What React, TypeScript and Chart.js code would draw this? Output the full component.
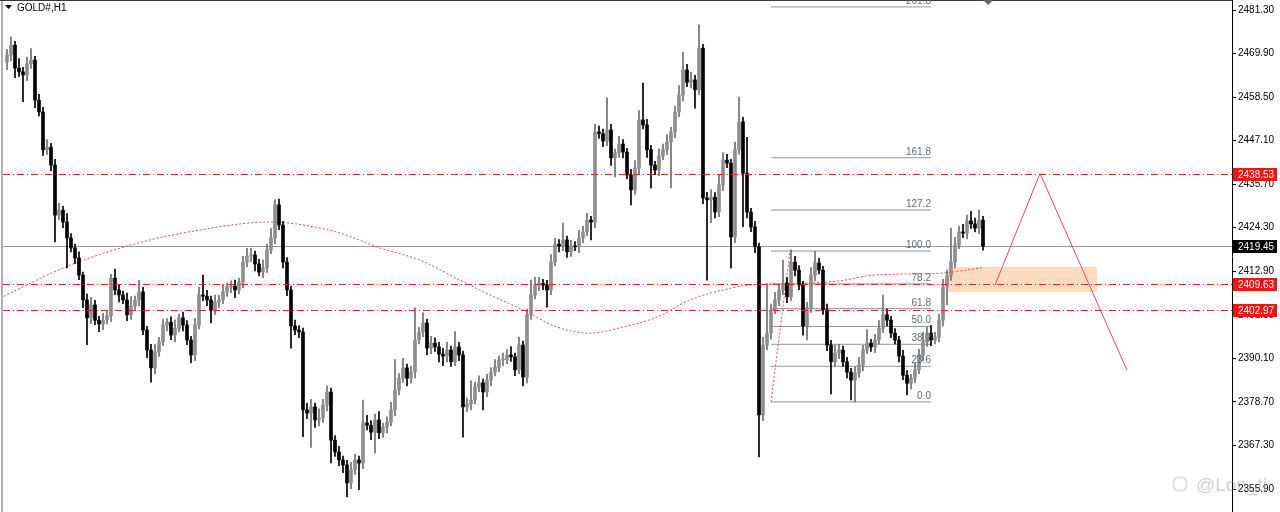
import React, { useEffect, useRef } from 'react';
import { Chart, registerables } from 'chart.js';

Chart.register(...registerables);

// ---------- DATA ----------
const symbolTitle = 'GOLD#,H1';
const firstOpen = 2467.7;
const closes = [
  2469.5, 2472.1, 2466.1, 2465.1, 2464.3, 2467.2, 2468.2, 2457.7, 2454.6, 2444.7,
  2445.4, 2440.7, 2427.6, 2428.9, 2425.8, 2421.6, 2419.0, 2416.4, 2411.9, 2405.4,
  2400.7, 2404.1, 2400.1, 2399.1, 2400.1, 2401.2, 2411.1, 2408.0, 2406.7, 2405.4,
  2401.5, 2403.8, 2405.4, 2407.5, 2397.5, 2392.3, 2387.6, 2391.8, 2394.4, 2398.8,
  2399.6, 2396.2, 2398.0, 2400.7, 2398.8, 2394.9, 2391.0, 2398.8, 2406.7, 2406.4,
  2405.4, 2402.8, 2404.9, 2405.4, 2407.5, 2408.8, 2409.0, 2408.0, 2410.1, 2415.3,
  2416.9, 2417.2, 2414.8, 2412.7, 2413.8, 2418.5, 2421.6, 2430.3, 2425.0, 2415.3,
  2408.0, 2398.6, 2397.5, 2397.0, 2376.6, 2375.8, 2377.4, 2374.0, 2374.5, 2377.9,
  2381.3, 2368.7, 2365.6, 2363.5, 2362.2, 2357.5, 2360.9, 2363.5, 2362.7, 2373.2,
  2372.6, 2370.8, 2374.0, 2370.6, 2372.1, 2373.4, 2376.6, 2381.8, 2384.9, 2387.6,
  2384.9, 2386.5, 2394.9, 2397.0, 2399.4, 2392.8, 2394.1, 2393.1, 2391.2, 2390.7,
  2392.3, 2389.2, 2393.1, 2391.0, 2377.4, 2378.2, 2379.2, 2382.6, 2383.7, 2381.3,
  2384.4, 2386.5, 2387.8, 2389.7, 2389.7, 2391.0, 2390.5, 2387.1, 2393.6, 2385.2,
  2401.5, 2406.7, 2409.3, 2409.8, 2409.3, 2408.0, 2415.3, 2420.0, 2419.5, 2421.1,
  2418.0, 2419.5, 2419.3, 2421.6, 2423.2, 2426.3, 2425.8, 2449.4, 2448.9, 2447.0,
  2449.9, 2442.6, 2443.9, 2446.2, 2444.1, 2438.1, 2434.2, 2439.9, 2452.5, 2451.2,
  2444.7, 2440.7, 2439.4, 2443.1, 2444.7, 2446.7, 2449.4, 2454.6, 2459.0, 2465.6,
  2462.4, 2463.0, 2460.4, 2471.3, 2432.1, 2431.6, 2432.3, 2428.4, 2435.5, 2442.0,
  2441.2, 2421.9, 2444.7, 2452.0, 2438.6, 2428.4, 2424.5, 2419.3, 2375.3, 2393.6,
  2396.7, 2402.8, 2405.4, 2408.0, 2409.8, 2406.2, 2415.3, 2413.2, 2409.3, 2398.6,
  2403.3, 2411.9, 2415.1, 2413.2, 2402.8, 2393.6, 2389.2, 2391.5, 2392.3, 2389.2,
  2386.5, 2384.4, 2386.3, 2388.4, 2392.3, 2394.1, 2393.1, 2394.9, 2398.0, 2401.5,
  2400.1, 2396.7, 2394.9, 2390.7, 2385.7, 2383.6, 2384.9, 2387.1, 2391.0, 2394.4,
  2396.7, 2394.9, 2395.7, 2400.1, 2408.8, 2411.7, 2415.3, 2419.8, 2423.2, 2422.9,
  2426.1, 2425.3, 2424.2, 2426.3, 2419.45,
];
const wickUp = [
  1.5, 2.1, 1.0, 2.5, 1.2, 1.8, 3.0, 1.0, 1.5, 1.2,
  2.0, 1.0, 1.5, 1.8, 1.0, 2.2, 1.2, 1.0, 1.6, 0.8,
  1.5, 2.0, 1.2, 1.0, 1.8, 1.5, 1.0, 2.4, 1.2, 1.0,
  1.8, 2.5, 1.0, 3.0, 1.2, 1.0, 1.5, 2.0, 1.2, 1.6,
  1.0, 1.4, 2.2, 1.0, 1.5, 1.2, 1.0, 1.8, 2.0, 5.2,
  1.5, 1.0, 1.8, 1.2, 2.0, 1.0, 1.4, 1.6, 1.0, 1.5,
  2.0, 1.8, 1.0, 1.2, 2.0, 1.5, 2.5, 1.3, 1.5, 1.0,
  1.2, 1.0, 1.5, 1.2, 1.0, 1.8, 2.0, 1.0, 2.4, 1.5,
  1.6, 1.0, 1.2, 1.5, 1.0, 1.2, 2.0, 1.5, 1.0, 6.0,
  2.0, 1.2, 1.5, 2.2, 1.0, 1.4, 2.0, 8.0, 1.2, 2.5,
  1.0, 1.5, 8.4, 1.2, 2.6, 1.0, 1.8, 1.4, 1.2, 1.5,
  2.0, 1.0, 4.0, 1.2, 1.0, 1.5, 5.0, 1.2, 1.8, 1.0,
  1.5, 1.2, 2.0, 1.0, 1.8, 1.4, 2.2, 1.0, 2.1, 1.0,
  1.5, 3.9, 2.0, 1.5, 1.0, 1.2, 2.0, 1.5, 1.2, 4.4,
  1.0, 1.5, 1.2, 2.0, 1.5, 1.8, 1.0, 2.0, 1.5, 1.2,
  8.4, 1.5, 1.0, 2.0, 1.2, 1.0, 1.5, 2.0, 2.5, 9.7,
  1.5, 1.2, 1.0, 1.8, 1.5, 2.0, 1.2, 1.5, 2.5, 4.7,
  1.5, 2.0, 1.2, 6.1, 1.0, 1.5, 2.0, 1.2, 2.5, 2.0,
  1.5, 1.0, 2.0, 6.5, 1.2, 9.4, 1.0, 1.5, 1.0, 2.0,
  13.0, 1.5, 2.0, 1.2, 6.0, 1.5, 3.2, 1.5, 1.2, 1.0,
  1.5, 2.0, 3.0, 1.2, 1.0, 1.5, 1.2, 2.0, 1.5, 1.0,
  1.2, 1.0, 1.5, 2.0, 1.2, 3.5, 1.0, 1.5, 2.0, 5.2,
  1.5, 1.0, 1.2, 1.0, 1.5, 1.2, 1.0, 1.8, 1.5, 2.5,
  1.5, 2.0, 1.2, 1.5, 2.0, 1.5, 8.9, 2.0, 1.5, 2.0,
  1.5, 2.5, 1.5, 2.6, 1.0,
];
const wickDn = [
  2.0, 1.5, 2.5, 1.2, 7.0, 1.5, 1.2, 2.0, 1.0, 1.5,
  1.2, 1.5, 7.0, 1.2, 1.5, 7.8, 1.0, 1.5, 1.2, 2.0,
  7.0, 1.5, 1.2, 2.0, 1.5, 1.0, 1.5, 1.2, 1.8, 1.0,
  1.5, 1.2, 1.0, 1.5, 1.2, 2.0, 3.7, 1.5, 1.2, 1.0,
  1.5, 1.2, 1.8, 1.0, 1.5, 1.2, 2.0, 1.5, 1.0, 1.2,
  1.5, 3.4, 1.2, 1.5, 1.0, 1.2, 1.5, 2.0, 1.0, 1.5,
  1.2, 1.5, 1.8, 1.0, 1.5, 1.2, 1.0, 1.5, 1.2, 1.5,
  1.5, 5.8, 1.2, 1.5, 7.0, 1.5, 9.0, 2.0, 1.5, 1.2,
  1.5, 6.0, 1.2, 1.5, 2.0, 3.7, 1.5, 1.2, 7.0, 1.5,
  1.2, 2.0, 5.5, 1.5, 1.2, 1.5, 1.0, 1.5, 1.2, 1.0,
  2.0, 1.2, 1.5, 1.0, 1.2, 1.8, 1.5, 1.2, 2.0, 2.5,
  1.5, 1.2, 1.0, 1.5, 7.9, 1.2, 1.5, 1.0, 1.2, 4.7,
  1.2, 1.5, 1.0, 1.2, 1.5, 1.0, 1.2, 1.5, 1.0, 2.3,
  1.5, 1.2, 1.0, 1.5, 1.2, 4.5, 1.2, 1.0, 1.5, 1.2,
  1.5, 1.2, 1.0, 1.5, 1.2, 1.0, 4.7, 1.5, 1.2, 1.5,
  1.2, 2.0, 5.0, 1.2, 1.5, 1.0, 3.9, 1.2, 1.5, 1.0,
  2.0, 6.0, 1.2, 1.5, 1.0, 1.2, 12.0, 1.5, 1.2, 1.5,
  1.2, 1.5, 4.8, 1.2, 1.5, 21.0, 6.0, 1.5, 1.2, 1.5,
  1.2, 8.1, 1.5, 1.2, 14.0, 1.5, 1.2, 1.5, 11.0, 1.5,
  1.2, 1.5, 1.0, 1.5, 1.2, 1.5, 1.0, 1.5, 1.2, 2.4,
  3.7, 1.2, 1.5, 1.0, 1.2, 1.5, 8.4, 1.2, 1.5, 1.2,
  1.5, 5.2, 5.7, 1.2, 1.5, 1.0, 1.2, 1.5, 1.0, 1.2,
  1.5, 1.2, 1.0, 1.5, 1.2, 3.1, 1.5, 1.2, 1.0, 1.5,
  1.2, 1.5, 1.0, 1.2, 1.5, 4.7, 1.2, 1.5, 1.0, 1.2,
  1.5, 1.2, 1.0, 1.5, 1.0,
];

const yTicks = [2355.9, 2367.3, 2378.7, 2390.1, 2401.5, 2412.9, 2424.3, 2435.7, 2447.1, 2458.5, 2469.9, 2481.3];
const redLevels = [2438.53, 2409.63, 2402.97];
const lastPrice = 2419.45;

const fibLevels = [0, 23.6, 38.2, 50, 61.8, 78.2, 100, 127.2, 161.8, 261.8];
const fibLabels = ['0.0', '23.6', '38.2', '50.0', '61.8', '78.2', '100.0', '127.2', '161.8', '261.8'];
const fibLow = 2378.7;
const fibHigh = 2418.2;
const fibStartIdx = 191;
const fibEndIdx = 231;
const fibDiagIdx = [191, 195.75];
const fibDiagPrice = [2378.7, 2418.2];

const maIdx = [-1.75, 15.75, 35.75, 48.25, 60, 65.75, 70.75, 78.25, 83.25, 93.25, 103.25, 113.25, 120.75, 129, 137.5, 145.75, 154, 162.5, 170.75, 179, 185.75, 195.75, 208.25, 216.5, 233.25, 243.75];
const maVal = [2405.9, 2414.5, 2421.1, 2423.7, 2425.5, 2425.8, 2425.5, 2424.2, 2422.9, 2419.0, 2415.8, 2410.6, 2406.7, 2402.8, 2398.3, 2396.7, 2398.3, 2400.9, 2405.4, 2408.0, 2409.3, 2409.6, 2410.4, 2411.9, 2412.4, 2413.8];

const zoneIdx = [235.25, 272.5];
const zoneLow = 2407.5;
const zoneHigh = 2414.0;

const pathIdx = [247, 258.25, 280];
const pathPrice = [2409.3, 2438.53, 2387.0];

const xMin = -1;
const xMax = 306.25;
const yMin = 2349.88;
const yMax = 2483.92;

const watermark = '@Lon_ti';

// ---------- CHART ----------
const FONT = '"Liberation Sans", Arial, sans-serif';

export default function App() {
  const ref = useRef<HTMLCanvasElement | null>(null);

  useEffect(() => {
    if (!ref.current) return;
    const opens = closes.map((c, i) => (i === 0 ? firstOpen : closes[i - 1]));
    const highs = closes.map((c, i) => Math.max(opens[i], c) + wickUp[i]);
    const lows = closes.map((c, i) => Math.min(opens[i], c) - wickDn[i]);
    const bull = closes.map((c, i) => c >= opens[i]);

    const bodyData = closes.map((c, i) => ({ x: i, y: [opens[i], c] }));
    const wickData = closes.map((c, i) => ({ x: i, y: [lows[i], highs[i]] }));

    const fibPrice = (lvl: number) => fibLow + ((fibHigh - fibLow) * lvl) / 100;

    const datasets: any[] = [
      {
        type: 'line',
        data: [
          { x: zoneIdx[0], y: zoneLow },
          { x: zoneIdx[1], y: zoneLow },
        ],
        borderWidth: 0,
        pointRadius: 0,
        fill: false,
        order: 20,
      },
      {
        type: 'line',
        data: [
          { x: zoneIdx[0], y: zoneHigh },
          { x: zoneIdx[1], y: zoneHigh },
        ],
        borderWidth: 0,
        pointRadius: 0,
        fill: '-1',
        backgroundColor: 'rgba(252, 214, 178, 0.85)',
        order: 19,
      },
      ...fibLevels.map((lvl) => ({
        type: 'line',
        data: [
          { x: fibStartIdx, y: fibPrice(lvl) },
          { x: fibEndIdx, y: fibPrice(lvl) },
        ],
        borderColor: '#8e959b',
        borderWidth: 1,
        pointRadius: 0,
        order: 15,
      })),
      {
        type: 'line',
        data: maIdx.map((x, i) => ({ x, y: maVal[i] })),
        borderColor: '#e0504a',
        borderWidth: 1,
        borderDash: [2, 2],
        pointRadius: 0,
        cubicInterpolationMode: 'monotone',
        order: 13,
      },
      {
        type: 'line',
        data: fibDiagIdx.map((x, i) => ({ x, y: fibDiagPrice[i] })),
        borderColor: '#e0504a',
        borderWidth: 1,
        borderDash: [2, 2],
        pointRadius: 0,
        order: 12,
      },
      {
        type: 'bar',
        data: wickData,
        backgroundColor: bull.map((b) => (b ? '#6f6f6f' : '#000000')),
        barThickness: 1,
        grouped: false,
        order: 6,
      },
      {
        type: 'bar',
        data: bodyData,
        backgroundColor: bull.map((b) => (b ? '#8f8f8f' : '#000000')),
        barThickness: 3,
        minBarLength: 1,
        grouped: false,
        order: 5,
      },
      {
        type: 'line',
        data: pathIdx.map((x, i) => ({ x, y: pathPrice[i] })),
        borderColor: '#e2486c',
        borderWidth: 1,
        pointRadius: 0,
        order: 2,
      },
    ];

    // horizontal price lines, pixel-snapped via the y scale
    const levelLines = {
      id: 'levelLines',
      beforeDatasetsDraw(chart: any) {
        const { ctx, chartArea, scales } = chart;
        const py = Math.round(scales.y.getPixelForValue(lastPrice)) + 0.5;
        ctx.save();
        ctx.strokeStyle = '#9a9a9a';
        ctx.lineWidth = 1;
        ctx.beginPath();
        ctx.moveTo(chartArea.left, py);
        ctx.lineTo(chartArea.right, py);
        ctx.stroke();
        ctx.restore();
      },
      afterDatasetsDraw(chart: any) {
        const { ctx, chartArea, scales } = chart;
        ctx.save();
        ctx.strokeStyle = '#e02424';
        ctx.lineWidth = 1;
        ctx.setLineDash([7, 3, 1, 3]);
        redLevels.forEach((v) => {
          const py = Math.ceil(scales.y.getPixelForValue(v)) + 0.5;
          ctx.beginPath();
          ctx.moveTo(chartArea.left, py);
          ctx.lineTo(chartArea.right, py);
          ctx.stroke();
        });
        ctx.restore();
      },
    };

    const overlay = {
      id: 'overlay',
      afterDraw(chart: any) {
        const { ctx, chartArea, scales } = chart;
        const xs = scales.x;
        const ys = scales.y;
        ctx.save();
        // frame
        ctx.fillStyle = '#b0b0b0';
        ctx.fillRect(1, 0, 2, chart.height);
        ctx.fillStyle = '#3a3a3a';
        ctx.fillRect(0, 0, chartArea.right, 1);

        // title
        ctx.fillStyle = '#000';
        ctx.beginPath();
        ctx.moveTo(5, 5);
        ctx.lineTo(12, 5);
        ctx.lineTo(8.5, 9);
        ctx.closePath();
        ctx.fill();
        ctx.font = '10px ' + FONT;
        ctx.textBaseline = 'middle';
        ctx.textAlign = 'left';
        ctx.fillText(symbolTitle, 17, 8);

        // fib labels
        ctx.fillStyle = '#5f6e7b';
        ctx.textAlign = 'right';
        ctx.textBaseline = 'alphabetic';
        const xr = xs.getPixelForValue(fibEndIdx);
        fibLevels.forEach((lvl, i) => {
          const py = ys.getPixelForValue(fibLow + ((fibHigh - fibLow) * lvl) / 100);
          ctx.fillText(fibLabels[i], xr, py - 3);
        });

        // top marker (shift-end)
        const mx = xs.getPixelForValue(closes.length + 0.3);
        ctx.fillStyle = '#5b6672';
        ctx.beginPath();
        ctx.moveTo(mx - 5, 0);
        ctx.lineTo(mx + 5, 0);
        ctx.lineTo(mx, 5);
        ctx.closePath();
        ctx.fill();

        // price boxes
        const box = (v: number, bg: string, snap: (n: number) => number) => {
          const py = snap(ys.getPixelForValue(v));
          ctx.fillStyle = bg;
          ctx.fillRect(chartArea.right + 1, py - 6, 44, 13);
          ctx.fillStyle = '#fff';
          ctx.textAlign = 'left';
          ctx.textBaseline = 'middle';
          ctx.font = '10px ' + FONT;
          ctx.fillText(v.toFixed(2), chartArea.right + 6, py + 1);
        };
        redLevels.forEach((v) => box(v, '#f01414', Math.ceil));
        box(lastPrice, '#000000', Math.round);

        // watermark
        ctx.font = '19px ' + FONT;
        ctx.textAlign = 'left';
        ctx.textBaseline = 'alphabetic';
        ctx.fillStyle = 'rgba(150,150,150,0.45)';
        ctx.fillText(watermark, 1196, 491);
        ctx.strokeStyle = 'rgba(150,150,150,0.45)';
        ctx.lineWidth = 1.2;
        ctx.beginPath();
        ctx.arc(1180, 484, 7, 0, Math.PI * 2);
        ctx.stroke();
        ctx.restore();
      },
    };

    const chart = new Chart(ref.current, {
      type: 'bar',
      data: { datasets },
      options: {
        animation: false,
        responsive: false,
        devicePixelRatio: 1,
        layout: { padding: { left: 3, right: 0, top: 0, bottom: 0 } },
        plugins: { legend: { display: false }, tooltip: { enabled: false } },
        scales: {
          x: {
            type: 'linear',
            min: xMin,
            max: xMax,
            offset: false,
            display: false,
          },
          y: {
            type: 'linear',
            position: 'right',
            min: yMin,
            max: yMax,
            afterBuildTicks: (scale: any) => {
              scale.ticks = yTicks.map((v) => ({ value: v }));
            },
            afterFit: (scale: any) => {
              scale.width = 48;
              scale.paddingTop = 0;
              scale.paddingBottom = 0;
            },
            grid: {
              drawOnChartArea: false,
              tickLength: 4,
              color: '#000',
            },
            border: { display: true, color: '#000', width: 1 },
            ticks: {
              padding: 2,
              color: '#000',
              font: { size: 10, family: FONT },
              autoSkip: false,
              callback: (v: any) => Number(v).toFixed(2),
            },
          },
        },
      } as any,
      plugins: [levelLines, overlay],
    });
    return () => chart.destroy();
  }, []);

  return (
    <div style={{ position: 'absolute', left: 0, top: 0, width: 1280, height: 512, background: '#fff' }}>
      <canvas ref={ref} width={1280} height={512} />
    </div>
  );
}
